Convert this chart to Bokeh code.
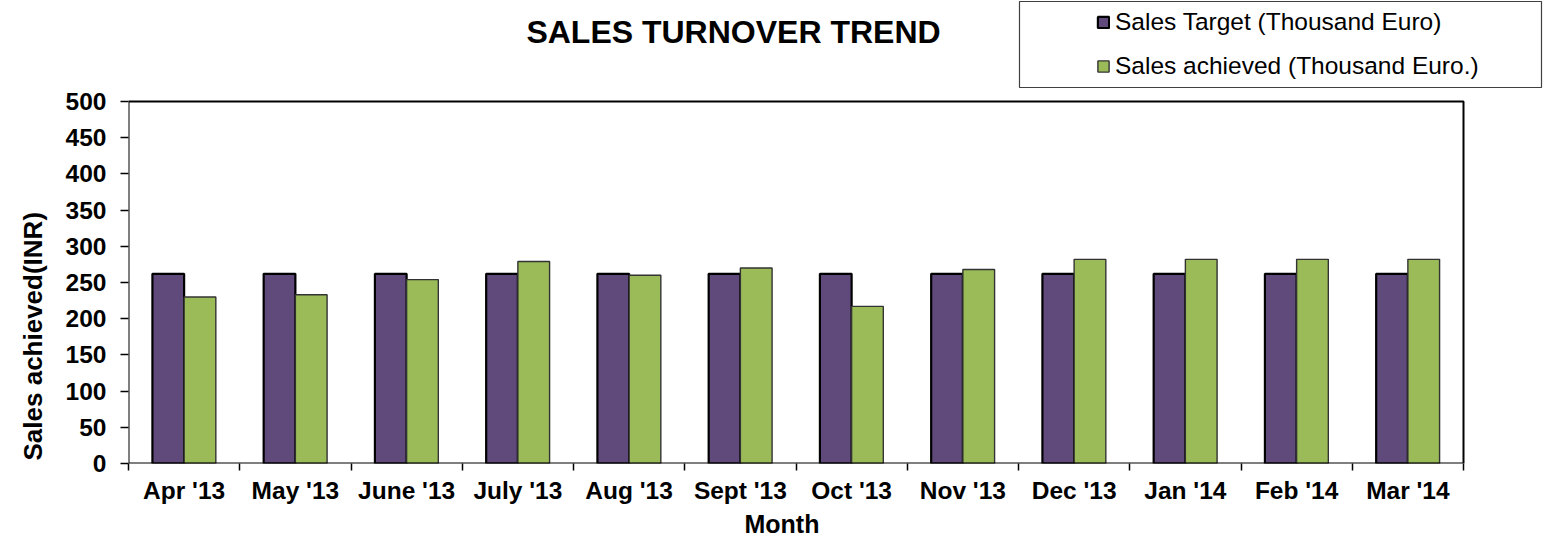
import numpy as np
from bokeh.plotting import figure
from bokeh.models import (Range1d, FixedTicker, Legend, LegendItem, Label,
                          BoxAnnotation, ColumnDataSource, Title)
from bokeh.embed import file_html
from bokeh.resources import INLINE

months = ["Apr '13", "May '13", "June '13", "July '13", "Aug '13", "Sept '13",
          "Oct '13", "Nov '13", "Dec '13", "Jan '14", "Feb '14", "Mar '14"]
sales_target = [262, 262, 262, 262, 262, 262, 262, 262, 262, 262, 262, 262]
sales_achieved = [230, 233, 254, 279, 260, 270, 217, 268, 282, 282, 282, 282]
y_ticks = [0, 50, 100, 150, 200, 250, 300, 350, 400, 450, 500]
y_max = 500

PURPLE = "#604A7B"
GREEN = "#9BBB59"
FONT = "Liberation Sans"

W, H = 1553, 539
LEFT, RIGHT_EDGE, TOP_EDGE, BOTTOM = 128, 1463, 101, 76   # plot-area placement
n = len(months)
idx = np.arange(n)
centers = idx + 0.5
bw = 0.285

# frame spans up to the canvas top and right edge so that title/legend fit inside
frame_w = W - LEFT
frame_h = H - BOTTOM
x_hi = n * frame_w / (RIGHT_EDGE - LEFT)
y_hi = y_max * frame_h / (frame_h - TOP_EDGE)

src = ColumnDataSource(dict(
    xt=centers - bw / 2, xa=centers + bw / 2,
    target=sales_target, achieved=sales_achieved))

p = figure(width=W, height=H, output_backend="svg", toolbar_location=None,
           title=None,
           x_range=Range1d(0, x_hi), y_range=Range1d(0, y_hi),
           min_border_left=LEFT, min_border_right=0, min_border_top=0,
           min_border_bottom=BOTTOM)
p.background_fill_color = "white"
p.border_fill_color = "white"
p.outline_line_color = None
p.xgrid.visible = False
p.ygrid.visible = False

r1 = p.vbar(x="xt", top="target", width=bw, bottom=0, source=src,
            fill_color=PURPLE, line_color="black", line_width=2.2)
r2 = p.vbar(x="xa", top="achieved", width=bw, bottom=0, source=src,
            fill_color=GREEN, line_color="#333333", line_width=1.4)

# plot-area border
p.add_layout(BoxAnnotation(left=0, right=n, bottom=0, top=y_max,
                           fill_color=None, fill_alpha=0,
                           line_color="black", line_width=2, line_alpha=1,
                           level="overlay"))

# x axis: labels at centers, tick marks at category boundaries
xa = p.xaxis[0]
xa.ticker = FixedTicker(ticks=list(centers), minor_ticks=list(range(n + 1)))
xa.major_label_overrides = {float(c): m for c, m in zip(centers, months)}
xa.major_tick_line_color = None
xa.major_tick_out = 7
xa.major_tick_in = 0
xa.minor_tick_line_color = "black"
xa.minor_tick_line_width = 1.5
xa.minor_tick_out = 7
xa.minor_tick_in = 0
xa.major_label_standoff = 6
xa.axis_line_color = None
xa.major_label_text_font = FONT
xa.major_label_text_font_style = "bold"
xa.major_label_text_font_size = "24.5px"
xa.major_label_text_color = "black"

ya = p.yaxis[0]
ya.ticker = FixedTicker(ticks=y_ticks)
ya.minor_tick_line_color = None
ya.major_tick_line_color = "black"
ya.major_tick_line_width = 1.5
ya.major_tick_out = 8
ya.major_tick_in = 0
ya.major_label_standoff = 14
ya.axis_line_color = None
ya.major_label_text_font = FONT
ya.major_label_text_font_style = "bold"
ya.major_label_text_font_size = "24.5px"
ya.major_label_text_color = "black"

# Main title (inside the extended frame)
p.add_layout(Label(x=605, y=frame_h - 31, x_units="screen", y_units="screen",
                   text="SALES TURNOVER TREND", text_font=FONT,
                   text_font_style="bold", text_font_size="32px",
                   text_align="center", text_baseline="middle",
                   text_color="black"))

# Axis titles
p.add_layout(Title(text="Month", align="left", offset=616, standoff=3,
                   text_font=FONT, text_font_style="bold", text_font_size="25px",
                   text_color="black"), "below")
p.add_layout(Title(text="Sales achieved(INR)", align="left", offset=3, standoff=30,
                   text_font=FONT, text_font_style="bold", text_font_size="26px",
                   text_color="black"), "left")

# Legend box
p.add_layout(BoxAnnotation(left=1019 - LEFT, right=1541 - LEFT,
                           bottom=frame_h - 87, top=frame_h - 1,
                           left_units="screen", right_units="screen",
                           bottom_units="screen", top_units="screen",
                           fill_color=None, fill_alpha=0,
                           line_color="#404040", line_width=1.2, line_alpha=1))

legend = Legend(items=[LegendItem(label="Sales Target (Thousand Euro)", renderers=[r1]),
                       LegendItem(label="Sales achieved (Thousand Euro.)", renderers=[r2])],
                location=(1096 - LEFT, frame_h - 80), padding=8, spacing=16,
                label_height=26, glyph_height=14, glyph_width=14, label_standoff=5,
                label_text_font=FONT, label_text_font_size="24.5px",
                label_text_color="black", border_line_color=None,
                background_fill_alpha=0, margin=0)
p.add_layout(legend)

open("out.html", "w").write(file_html(p, INLINE))
